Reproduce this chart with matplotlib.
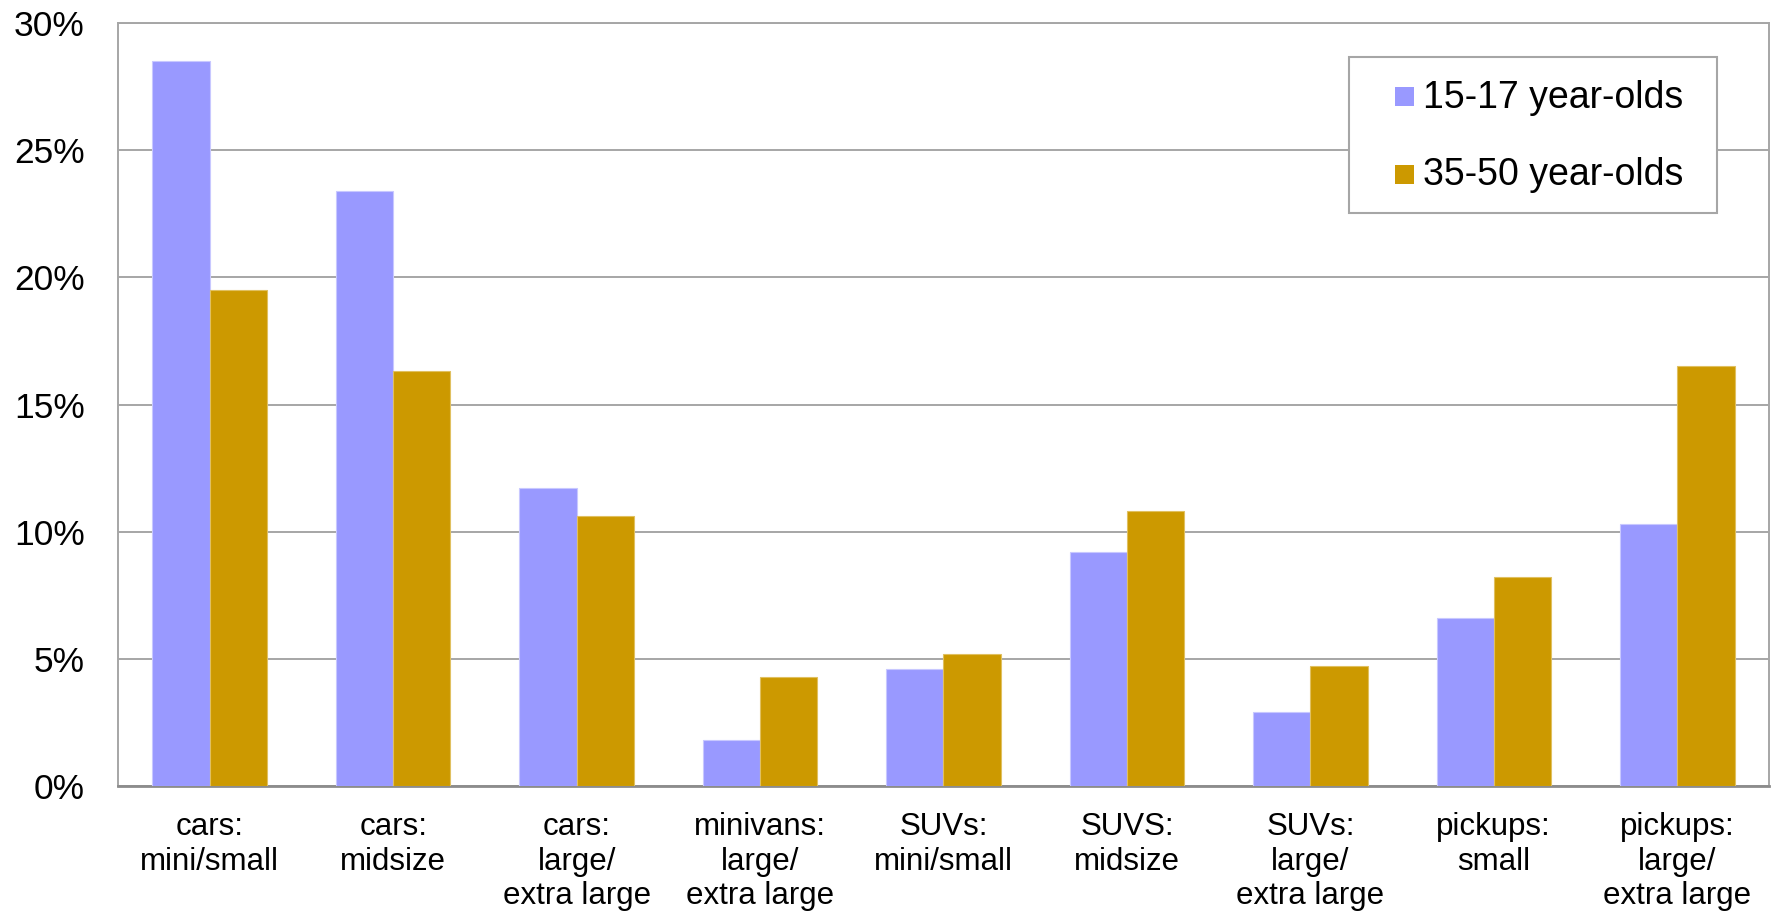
import numpy as np
import matplotlib
matplotlib.use("Agg")
import matplotlib.pyplot as plt
from matplotlib.patches import Rectangle
from matplotlib.ticker import FuncFormatter

plt.rcParams['font.family'] = ['Liberation Sans', 'DejaVu Sans']

# --- data ---
categories = [
    "cars:\nmini/small",
    "cars:\nmidsize",
    "cars:\nlarge/\nextra large",
    "minivans:\nlarge/\nextra large",
    "SUVs:\nmini/small",
    "SUVS:\nmidsize",
    "SUVs:\nlarge/\nextra large",
    "pickups:\nsmall",
    "pickups:\nlarge/\nextra large",
]
teens = [28.5, 23.4, 11.7, 1.8, 4.6, 9.2, 2.9, 6.6, 10.3]
adults = [19.5, 16.3, 10.6, 4.3, 5.2, 10.8, 4.7, 8.2, 16.5]
series_labels = ["15-17 year-olds", "35-50 year-olds"]
yticks = [0, 5, 10, 15, 20, 25, 30]

blue = "#9999FF"
gold = "#CC9900"
grid_grey = "#A6A6A6"

W, H = 1774, 914
fig = plt.figure(figsize=(W / 100, H / 100), dpi=100)
ax = fig.add_axes([118 / W, 1 - 786 / H, (1769 - 118) / W, (786 - 23) / H])

x = np.arange(len(categories))
w = 1 / 3.2  # Excel gap width 120%
ax.bar(x - w / 2, teens, w, color=blue, edgecolor="#C8C8FF", linewidth=0.8, zorder=3)
ax.bar(x + w / 2, adults, w, color=gold, edgecolor="#E0C060", linewidth=0.8, zorder=3)

ax.set_xlim(-0.5, len(categories) - 0.5)
ax.set_ylim(0, 30)
ax.set_yticks(yticks)
ax.yaxis.set_major_formatter(FuncFormatter(lambda v, p: f"{v:.0f}%"))
ax.set_xticks(x)
ax.set_xticklabels(categories, fontsize=22.5, linespacing=1.18)
ax.tick_params(axis="y", labelsize=25.5, length=0, pad=24)
ax.tick_params(axis="x", length=0, pad=19)

ax.grid(axis="y", color=grid_grey, linewidth=1.4, zorder=0)
ax.set_axisbelow(True)
for side in ["top", "right", "left", "bottom"]:
    ax.spines[side].set_color(grid_grey)
    ax.spines[side].set_linewidth(1.4)
ax.spines["bottom"].set_color("#8C8C8C")
ax.spines["bottom"].set_linewidth(2)

# legend box, drawn in figure pixel positions
def fx(px):
    return px / W

def fy(py):
    return 1 - py / H

fig.add_artist(Rectangle((fx(1349), fy(213)), fx(1717) - fx(1349), fy(57) - fy(213),
                         transform=fig.transFigure, facecolor="white",
                         edgecolor=grid_grey, linewidth=1.5, zorder=5))
for label, colour, top, base in [(series_labels[0], blue, 87, 108),
                                  (series_labels[1], gold, 165, 185)]:
    fig.add_artist(Rectangle((fx(1395), fy(top + 19)), fx(1414) - fx(1395), fy(top) - fy(top + 19),
                             transform=fig.transFigure, facecolor=colour,
                             edgecolor="none", zorder=6))
    fig.text(fx(1423), fy(base), label, fontsize=27, ha="left", va="baseline", zorder=7)

fig.savefig("out.png", dpi=100)
